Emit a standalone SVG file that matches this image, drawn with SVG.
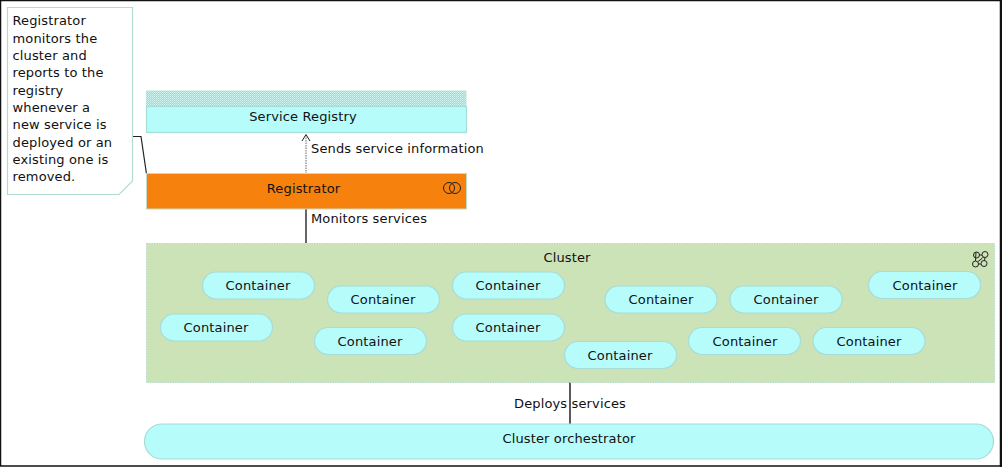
<svg xmlns="http://www.w3.org/2000/svg" width="1002" height="467" viewBox="0 0 1002 467">
<style>
text{font-family:"DejaVu Sans",sans-serif;font-size:13px;letter-spacing:.14px;fill:#111;text-anchor:middle}
.l{text-anchor:start}
.c{fill:#b5fcfb;stroke:#a8dcd6;stroke-width:1.2}
.w{stroke:#222;stroke-width:1;fill:none}
</style>
<defs>
<pattern id="dots" width="2" height="2" patternUnits="userSpaceOnUse">
<rect width="2" height="2" fill="#a0dcd4"/><rect width="1" height="1" fill="#d0f4f0"/><rect x="1" y="1" width="1" height="1" fill="#c0ece8"/>
</pattern>
<rect id="ct" x="0" y="0" width="112" height="27" rx="13.5" class="c"/>
</defs>
<rect x="0.500" y="0.500" width="1000" height="465.500" fill="#fff" stroke="#111" stroke-width="1.500"/>
<path d="M1001 0V467" stroke="#111" stroke-width="2"/>
<g id="connectors">
<path d="M306 174V136" fill="none" stroke="#666" stroke-width="1" stroke-dasharray="1.5 1"/>
<path d="M302 141L306 134.500L310 141" class="w"/>
<path d="M306 209V243" fill="none" stroke="#333" stroke-width="1.500"/>
<path d="M570 382V424" fill="none" stroke="#222" stroke-width="1.500"/>
<path d="M133 136.500H141L146.500 174" fill="none" stroke="#222" stroke-width="1.200"/>
</g>
<g id="note">
<path d="M7.500 7.500H132.500V181L119 194.500H7.500Z" fill="#fff" stroke="#b0dcd4" stroke-width="1.200"/>
<text class="l" x="12.500" y="25">Registrator</text>
<text class="l" x="12.500" y="42.500">monitors the</text>
<text class="l" x="12.500" y="59.500">cluster and</text>
<text class="l" x="12.500" y="77">reports to the</text>
<text class="l" x="12.500" y="94.500">registry</text>
<text class="l" x="12.500" y="112">whenever a</text>
<text class="l" x="12.500" y="129">new service is</text>
<text class="l" x="12.500" y="146.500">deployed or an</text>
<text class="l" x="12.500" y="164">existing one is</text>
<text class="l" x="12.500" y="181">removed.</text>
</g>
<g id="service-registry">
<rect x="146" y="90.500" width="320.500" height="16" fill="url(#dots)"/>
<rect x="146.500" y="106.500" width="320" height="26" fill="#b5fcfb" stroke="#a8dcd6" stroke-width="1.200"/>
<text x="303" y="121">Service Registry</text>
</g>
<g id="registrator">
<rect x="146.500" y="173.500" width="320" height="35.500" fill="#f6810c" stroke="#c3dcc5"/>
<text x="303.500" y="193">Registrator</text>
<circle cx="449" cy="188" r="5.500" class="w"/><circle cx="455" cy="188" r="5.500" class="w"/>
</g>
<g id="cluster">
<rect x="146.500" y="243.500" width="848" height="139" fill="#cbe3b6" stroke="#b5d8c8" stroke-dasharray="1.500 1"/>
<text x="567" y="262">Cluster</text>
<g class="w"><circle cx="976.500" cy="255" r="3"/><circle cx="985" cy="254.500" r="3"/><circle cx="975.500" cy="264" r="3"/><circle cx="984" cy="263.500" r="3"/><path d="M979.500 255H982M978.500 264H981M976 252L975.500 261M983.500 257L982 258.500L978 261.500M985 257.500L984.500 260.500"/></g>
</g>
<g id="container-1"><use href="#ct" x="202.500" y="272"/><text x="258" y="290">Container</text></g>
<g id="container-2"><use href="#ct" x="327.500" y="286"/><text x="383" y="304">Container</text></g>
<g id="container-3"><use href="#ct" x="452.500" y="272"/><text x="508" y="290">Container</text></g>
<g id="container-4"><use href="#ct" x="160.500" y="314"/><text x="216" y="332">Container</text></g>
<g id="container-5"><use href="#ct" x="314.500" y="327.500"/><text x="370" y="345.500">Container</text></g>
<g id="container-6"><use href="#ct" x="452.500" y="314"/><text x="508" y="332">Container</text></g>
<g id="container-7"><use href="#ct" x="564.500" y="341.500"/><text x="620" y="359.500">Container</text></g>
<g id="container-8"><use href="#ct" x="605" y="286"/><text x="661" y="304">Container</text></g>
<g id="container-9"><use href="#ct" x="730" y="286"/><text x="786" y="304">Container</text></g>
<g id="container-10"><use href="#ct" x="688.500" y="327.500"/><text x="745" y="345.500">Container</text></g>
<g id="container-11"><use href="#ct" x="813" y="327.500"/><text x="869" y="345.500">Container</text></g>
<g id="container-12"><use href="#ct" x="868.500" y="271.500"/><text x="925" y="289.500">Container</text></g>
<g id="cluster-orchestrator">
<rect x="144.500" y="424" width="849" height="35" rx="17.500" class="c"/>
<text x="569" y="443">Cluster orchestrator</text>
</g>
<g id="labels">
<text class="l" x="311" y="153">Sends service information</text>
<text class="l" x="311" y="223">Monitors services</text>
<text x="570" y="408">Deploys services</text>
</g>
</svg>
